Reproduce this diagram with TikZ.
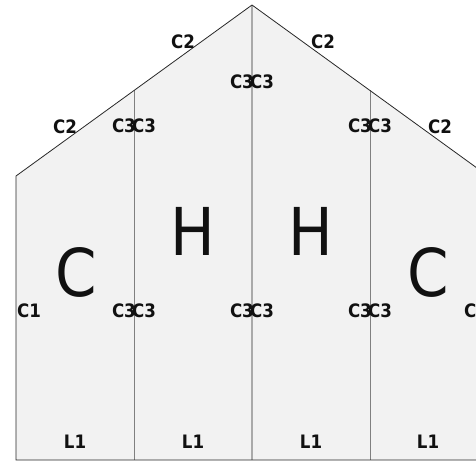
\documentclass[tikz,border=0pt]{standalone}
\usepackage{fontspec}
\setmainfont{DejaVu Sans Condensed}
\usetikzlibrary{positioning}
\definecolor{WallFill}{RGB}{242, 242, 242}
\definecolor{EdgeDark}{RGB}{40, 40, 40}
\definecolor{SplitGray}{RGB}{128, 128, 128}
\definecolor{MidGray}{RGB}{170, 170, 170}
\definecolor{LabelInk}{RGB}{17, 17, 17}

\tikzset{
  small/.style={inner sep=0pt, text=LabelInk, font=\fontsize{18.5}{18.5}\selectfont\bfseries},
  big/.style={inner sep=0pt, text=LabelInk, font=\fontsize{66}{66}\selectfont}
}

\begin{document}
\begin{tikzpicture}[x=1pt, y=-1pt]
    \useasboundingbox (0,0) rectangle (476,461);
    \clip (0,0) rectangle (476,461);
    \fill[WallFill] (16,460) -- (16,176) -- (252,5) -- (488,176) -- (488,460) -- cycle;
    \draw[SplitGray] (134,90) -- (134,460);
    \draw[SplitGray] (370,90) -- (370,460);
    \draw[MidGray, line width=1.4pt] (252,5) -- (252,460);
    \draw[EdgeDark, line width=0.8pt] (16,460) -- (16,176) -- (252,5) -- (488,176) -- (488,460) -- cycle;
    \node[small] (c2a) at (183,42) {C2};
    \node[small] (c2b) at (323,42) {C2};
    \node[small] (c2c) at (65,127) {C2};
    \node[small] (c2d) at (440,127) {C2};
    \foreach \n/\x/\y in {ta/252/82, tb/134/126, tc/370/126, ma/134/311, mb/252/311, mc/370/311} {
      \node[small, anchor=east] (\n l) at (\x+2,\y) {C3};
      \node[small, anchor=west] (\n r) at (\x-2,\y) {C3};
    }
    \node[small, anchor=west] (c1l) at (17,311) {C1};
    \node[small, anchor=east] (c1r) at (488,311) {C1};
    \node[big] (bigc1) at (76,272) {C};
    \node[big] (bigh1) at (193,231) {H};
    \node[big] (bigh2) at (311,231) {H};
    \node[big] (bigc2) at (428,272) {C};
    \foreach \x [count=\i] in {75,193,311,428} {
      \node[small] (l\i) at (\x,442) {L1};
    }
\end{tikzpicture}
\end{document}
